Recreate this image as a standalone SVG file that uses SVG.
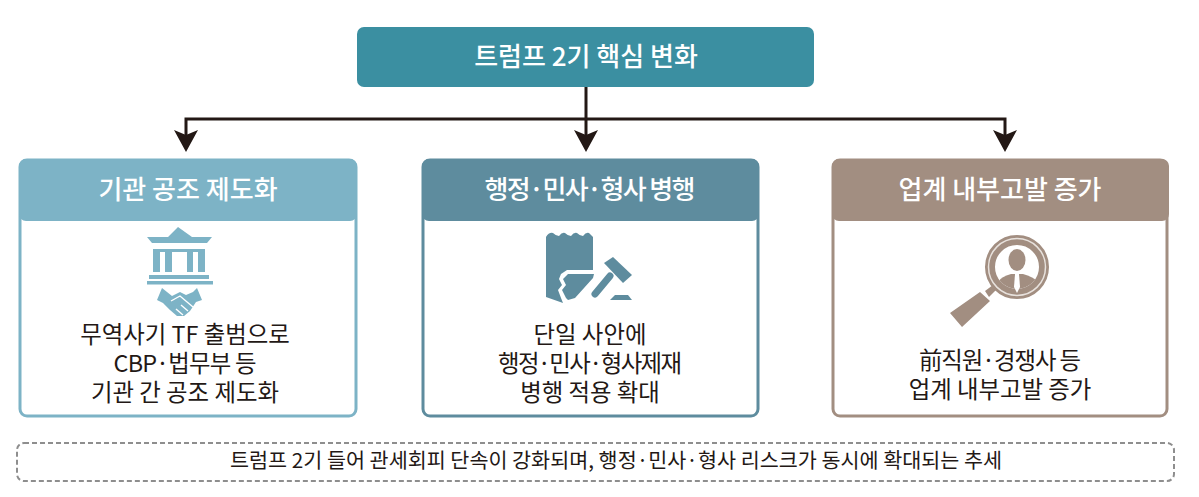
<svg xmlns="http://www.w3.org/2000/svg" width="1199" height="497" viewBox="0 0 1199 497">
<style>
text{font-family:"Noto Sans CJK KR","Noto Sans",sans-serif;text-anchor:middle}
.hd{font-size:26px;fill:#fff;font-weight:500}
.bd{font-size:23.4px;fill:#231815}
.wire{fill:none;stroke:#231815;stroke-width:3}
.card{fill:#fff;stroke-width:3}
.head{fill:#231815}
</style>
<defs>
<clipPath id="lens"><circle cx="1017" cy="267" r="22"/></clipPath>
</defs>
<rect width="1199" height="497" fill="#fff"/>
<g id="connectors">
<path class="wire" d="M586,87 V135" />
<path class="wire" d="M186,140 V119 H1005 V140" />
<path class="head" d="M174,130 L186,135 L198,130 L186,152 Z"/>
<path class="head" d="M574,130 L586,135 L598,130 L586,152 Z"/>
<path class="head" d="M993,130 L1005,135 L1017,130 L1005,152 Z"/>
</g>
<g id="top">
<rect x="357" y="27" width="457" height="60" rx="7" fill="#3b8fa1"/>
<text class="hd" x="586" y="66">트럼프 2기 핵심 변화</text>
</g>
<g id="card-1">
<rect class="card" x="20" y="160" width="336" height="256" rx="7" stroke="#7db3c6"/>
<path d="M19,166 a7,7 0 0 1 7,-7 H350 a7,7 0 0 1 7,7 V214 a7,7 0 0 1 -7,7 H26 a7,7 0 0 1 -7,-7 Z" fill="#7db3c6"/>
<text class="hd" x="188" y="199">기관 공조 제도화</text>
<g fill="#7db3c6">
<path d="M147,237 H168 L178,227 L192,237 H212 L207,243 H152 Z"/>
<rect x="153" y="249" width="52" height="3"/>
<rect x="153" y="249" width="7" height="23"/><rect x="165" y="249" width="7" height="23"/><rect x="187" y="249" width="6" height="23"/><rect x="198" y="249" width="7" height="23"/>
<rect x="149" y="275" width="60" height="4"/><rect x="147" y="281" width="66" height="3.5"/>
<path d="M162,288 L167,292 L172,296 L180,292 L186,295 L193,292 L197,288 L202,300 L196,302 L190,311 L184,316 L177,316 L170,310 L163,303 L157,300 Z"/>
</g>
<path d="M171,301 L180,296 L193,307 M176,309 L183,315 M181,305 L188,311" fill="none" stroke="#fff" stroke-width="1.4"/>
<text class="bd" x="185" y="343">무역사기 TF 출범으로</text>
<text class="bd" x="185" y="372" textLength="143" lengthAdjust="spacing">CBP·법무부 등</text>
<text class="bd" x="185" y="401">기관 간 공조 제도화</text>
</g>
<g id="card-2">
<rect class="card" x="423" y="160" width="335" height="256" rx="7" stroke="#5e8c9e"/>
<path d="M422,166 a7,7 0 0 1 7,-7 H752 a7,7 0 0 1 7,7 V214 a7,7 0 0 1 -7,7 H429 a7,7 0 0 1 -7,-7 Z" fill="#5e8c9e"/>
<text class="hd" x="590" y="199" textLength="211" lengthAdjust="spacing">행정·민사·형사 병행</text>
<g fill="#5e8c9e">
<path d="M546,237 Q549,232 553,233 Q556,236 559,236 Q562,232 565,233 Q568,236 571,236 Q574,232 577,233 Q580,236 583,236 Q586,232 589,233 L593,237 V270 H567 L561,274 L559,279 L562,285 L558,290 L561,298 L563,303 L546,297 Z"/>
<path d="M594,274 H568 L563,279 L566,285 L562,290 L566,298 L568,300 L575,298 L593,278 Z"/>
<path d="M604,263 L613,257 L632,275 L623,283 Z"/>
<path d="M610,276 L595,294" fill="none" stroke="#5e8c9e" stroke-width="7" stroke-linecap="round"/>
<path d="M610,300 H632 L628,295 H615 Z"/>
</g>
<text class="bd" x="590" y="343">단일 사안에</text>
<text class="bd" x="590" y="372" textLength="184" lengthAdjust="spacing">행정·민사·형사제재</text>
<text class="bd" x="590" y="401">병행 적용 확대</text>
</g>
<g id="card-3">
<rect class="card" x="833" y="160" width="334" height="256" rx="7" stroke="#a28e81"/>
<path d="M832,166 a7,7 0 0 1 7,-7 H1162 a7,7 0 0 1 7,7 V214 a7,7 0 0 1 -7,7 H839 a7,7 0 0 1 -7,-7 Z" fill="#a28e81"/>
<text class="hd" x="1000" y="199">업계 내부고발 증가</text>
<circle cx="1017" cy="267" r="27" fill="none" stroke="#a28e81" stroke-width="10"/>
<circle cx="1017" cy="267" r="28.5" fill="none" stroke="#e8e2dd" stroke-width="1.5"/>
<path d="M980,292 L990,301 L962,327 L950,313 Z M985,291 L993,285 L997,289 L989,297 Z" fill="#a28e81"/>
<g clip-path="url(#lens)" fill="#a28e81">
<ellipse cx="1017" cy="260" rx="8.5" ry="11"/>
<path d="M999,300 V281 Q1001,277 1011,274 H1023 Q1033,277 1037,281 V300 Z"/>
</g>
<path d="M1015,274 H1019 L1020,287 L1017,293 L1014,287 Z" fill="#fff"/>
<text class="bd" x="1000" y="369" textLength="162" lengthAdjust="spacing">前직원·경쟁사 등</text>
<text class="bd" x="1000" y="398">업계 내부고발 증가</text>
</g>
<g id="note">
<rect x="17" y="443" width="1157" height="38" rx="7" fill="#fff" stroke="#8e8e8e" stroke-width="2" stroke-dasharray="5 3"/>
<text x="616" y="468" font-size="20.7" fill="#231815">트럼프 2기 들어 관세회피 단속이 강화되며, 행정·민사·형사 리스크가 동시에 확대되는 추세</text>
</g>
</svg>
